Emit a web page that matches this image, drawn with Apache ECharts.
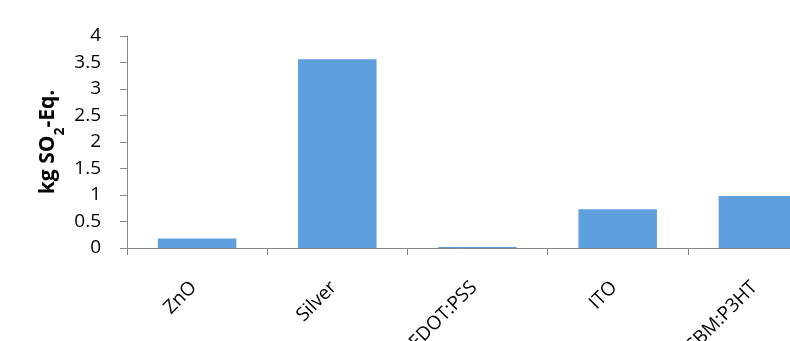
<!DOCTYPE html>
<html>
<head>
<meta charset="utf-8">
<script src="https://cdn.jsdelivr.net/npm/echarts@6/dist/echarts.min.js"></script>
<style>
  html, body { margin: 0; padding: 0; background: #fff; }
  #main { width: 790px; height: 341px; }
</style>
</head>
<body>
<div id="main"></div>
<script>
// categories and values
let categories = ['ZnO', 'Silver', 'PEDOT:PSS', 'ITO', 'PCBM:P3HT'];
let values = [0.18, 3.56, 0.02, 0.73, 0.98];
let yTicks = [0, 0.5, 1, 1.5, 2, 2.5, 3, 3.5, 4];

let myChart = echarts.init(document.getElementById('main'));
let font = 'Open Sans';
let axisGrey = '#868686';

myChart.setOption({
    animation: false,
    // plot runs past the right edge, like the cropped original
    grid: { left: 127, top: 36, width: 701, height: 212, outerBoundsMode: 'none' },
    xAxis: {
        type: 'category',
        data: categories,
        axisLine: { lineStyle: { color: axisGrey, width: 1 } },
        axisTick: { show: true, length: 7, lineStyle: { color: axisGrey } },
        axisLabel: {
            rotate: 45,
            margin: 33,
            padding: [0, 5, 0, 0],
            color: '#000',
            fontFamily: font,
            fontSize: 19
        }
    },
    yAxis: {
        type: 'value',
        min: yTicks[0],
        max: yTicks[yTicks.length - 1],
        interval: 0.5,
        name: '{a|kg SO}{b|2}{a|-Eq.}',
        nameLocation: 'middle',
        nameGap: 68,
        nameMoveOverlap: false,
        nameTextStyle: {
            rich: {
                a: { fontFamily: font, fontSize: 21, fontWeight: 'bold', color: '#000' },
                b: { fontFamily: font, fontSize: 14, fontWeight: 'bold', color: '#000', verticalAlign: 'bottom', padding: [0, 0, -8, 0] }
            }
        },
        axisLine: { show: true, lineStyle: { color: axisGrey } },
        axisTick: { show: true, length: 7, lineStyle: { color: axisGrey } },
        splitLine: { show: false },
        axisLabel: {
            margin: 26,
            color: '#000',
            fontFamily: font,
            fontSize: 19,
            formatter: function (v) { return String(v); }
        }
    },
    series: [{
        type: 'bar',
        data: values,
        barCategoryGap: '44%',
        itemStyle: { color: '#609FDE' }
    }]
});
</script>
</body>
</html>
